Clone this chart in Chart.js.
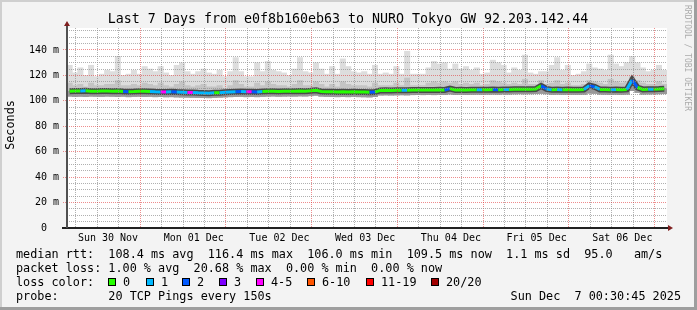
<!DOCTYPE html>
<html>
<head>
<meta charset="utf-8">
<script src="https://cdn.jsdelivr.net/npm/chart.js@4/dist/chart.umd.min.js"></script>
<style>
  html, body { margin: 0; padding: 0; background: #f3f3f3; }
  #wrap { width: 697px; height: 310px; }
</style>
</head>
<body>
<div id="wrap"><canvas id="smoke" width="697" height="310"></canvas></div>
<script>
// time axis is in hours after Sun 30 Nov 00:00, one bin = 1.5 h
const binStart = 0.5;
const binHours = 1.5;
const dayLabels = ['Sun 30 Nov', 'Mon 01 Dec', 'Tue 02 Dec', 'Wed 03 Dec', 'Thu 04 Dec', 'Fri 05 Dec', 'Sat 06 Dec'];
const xTicks = [6, 12, 18, 24, 30, 36, 42, 48, 54, 60, 66, 72, 78, 84, 90, 96, 102, 108, 114, 120, 126, 132, 138, 144, 150, 156, 162, 168];
const yTicks = [0, 5, 10, 15, 20, 25, 30, 35, 40, 45, 50, 55, 60, 65, 70, 75, 80, 85, 90, 95, 100, 105, 110, 115, 120, 125, 130, 135, 140, 145, 150, 155];

// rtt in ms
const median = [
  107.6, 107.8, 107.7, 107.9, 107.6, 107.5, 107.7, 107.8, 107.6, 107.7, 107.4, 107.2, 107.3, 107.6, 107.5, 107.3,
  107.1, 107.0, 107.0, 107.1, 106.9, 106.8, 106.6, 106.5, 106.3, 106.2, 106.0, 106.3, 106.4, 106.7, 107.0, 107.2,
  107.3, 107.1, 107.2, 107.0, 107.3, 107.5, 107.6, 107.4, 107.5, 107.6, 107.5, 107.7, 107.6, 107.9, 108.3, 107.4,
  107.2, 107.1, 107.0, 107.1, 107.0, 107.2, 107.0, 106.9, 106.8, 107.0, 108.2, 108.3, 108.2, 108.3, 108.4, 108.3,
  108.5, 108.6, 108.5, 108.6, 108.5, 108.7, 108.6, 109.6, 108.6, 108.7, 108.6, 108.7, 108.8, 108.7, 108.8, 108.9,
  108.8, 109.0, 108.9, 109.1, 109.2, 109.1, 109.2, 109.3, 111.8, 109.4, 108.8, 108.9, 108.8, 108.9, 108.8, 108.8,
  108.9, 112.0, 111.0, 109.0, 108.9, 108.8, 108.9, 108.8, 109.0, 116.4, 110.5, 109.0, 109.1, 109.2, 109.3, 109.5
];
const maxRtt = [
  128, 122, 126, 120, 128, 119, 121, 124, 123, 135, 120, 121, 124, 121, 127, 125,
  123, 127, 122, 120, 128, 130, 123, 121, 123, 125, 122, 121, 124, 119, 123, 134,
  123, 119, 119, 130, 123, 131, 124, 123, 122, 120, 125, 134, 123, 122, 130, 125,
  121, 127, 121, 133, 127, 123, 122, 123, 121, 128, 121, 122, 121, 127, 121, 139,
  121, 121, 121, 126, 131, 129, 130, 125, 129, 125, 127, 124, 126, 121, 122, 132,
  130, 128, 122, 126, 124, 136, 122, 121, 123, 123, 128, 134, 124, 128, 120, 121,
  123, 129, 126, 125, 124, 136, 129, 127, 130, 135, 130, 126, 123, 124, 128, 124
];
const highRtt = [
  114, 112, 113, 111, 114, 112, 112, 113, 113, 116, 112, 112, 113, 112, 114, 113,
  112, 114, 112, 111, 113, 115, 112, 111, 112, 113, 111, 111, 112, 110, 112, 116,
  113, 111, 111, 114, 112, 115, 113, 112, 112, 111, 113, 116, 112, 112, 115, 113,
  111, 113, 111, 115, 113, 112, 112, 112, 111, 114, 112, 112, 112, 114, 112, 118,
  112, 112, 112, 114, 115, 114, 115, 114, 115, 113, 114, 113, 114, 112, 113, 116,
  115, 114, 113, 114, 113, 117, 113, 113, 116, 113, 114, 116, 113, 114, 112, 112,
  113, 116, 115, 114, 113, 117, 115, 114, 115, 119, 116, 114, 113, 113, 115, 113
];
const minRtt = [
  103.6, 103.4, 103.5, 103.3, 103.6, 103.5, 103.4, 103.6, 103.5, 103.3, 103.5, 103.2, 103.4, 103.5, 103.3, 103.4,
  103.2, 103.3, 103.1, 103.2, 103.0, 102.9, 102.8, 102.7, 102.6, 102.5, 102.4, 102.6, 102.8, 103.0, 103.2, 103.3,
  103.4, 103.2, 103.3, 103.2, 103.4, 103.6, 103.7, 103.5, 103.6, 103.7, 103.6, 103.8, 103.7, 104.0, 104.3, 103.6,
  103.4, 103.3, 103.2, 103.3, 103.2, 103.4, 103.2, 103.1, 103.0, 103.3, 104.5, 104.6, 104.5, 104.6, 104.7, 104.6,
  104.8, 104.9, 104.8, 104.9, 104.8, 105.0, 104.9, 105.3, 104.9, 105.0, 104.9, 105.0, 105.1, 105.0, 105.1, 105.2,
  105.1, 105.3, 105.2, 105.4, 105.5, 105.4, 105.5, 105.6, 105.8, 105.5, 105.0, 105.1, 105.0, 105.1, 105.0, 105.0,
  105.1, 106.0, 105.8, 105.2, 105.1, 105.0, 105.1, 105.0, 105.2, 108.0, 106.5, 105.2, 105.3, 105.4, 105.5, 105.6
];
// index into lossColors
const loss = [
  0, 0, 0, 1, 0, 0, 0, 0, 0, 0, 0, 2, 0, 0, 0, 0,
  1, 1, 4, 1, 2, 1, 1, 4, 1, 1, 1, 1, 0, 1, 1, 1,
  2, 1, 4, 2, 1, 0, 0, 0, 0, 0, 0, 0, 0, 0, 0, 0,
  0, 0, 0, 0, 0, 0, 0, 0, 0, 2, 0, 0, 0, 0, 0, 1,
  0, 0, 0, 0, 0, 0, 0, 2, 0, 0, 0, 0, 0, 1, 0, 0,
  2, 0, 1, 0, 0, 0, 0, 0, 0, 2, 1, 0, 1, 0, 0, 0,
  0, 1, 2, 1, 0, 0, 1, 0, 0, 1, 2, 0, 0, 1, 0, 0
];

const lossColors = ['#26ff00', '#00b8ff', '#0059ff', '#7e00ff', '#ff00ff', '#ff5500', '#ff0000', '#a10000'];
const lossLabels = ['0', '1', '2', '3', '4-5', '6-10', '11-19', '20/20'];
const lossBoxX = [108, 146, 182, 219, 256, 307, 366, 431];

const titleText = 'Last 7 Days from e0f8b160eb63 to NURO Tokyo GW 92.203.142.44';
const rttLine = 'median rtt:  108.4 ms avg  116.4 ms max  106.0 ms min  109.5 ms now  1.1 ms sd  95.0   am/s';
const lossLine = 'packet loss: 1.00 % avg  20.68 % max  0.00 % min  0.00 % now';
const probeLine = 'probe:       20 TCP Pings every 150s';
const stampText = 'Sun Dec  7 00:30:45 2025';

const MONO = "'DejaVu Sans Mono', monospace";
const MAJOR = 'rgba(222,48,48,0.55)';
const MINOR = 'rgba(143,143,143,0.7)';
const NONE = 'rgba(0,0,0,0)';

const xOf = (i) => binStart + binHours * (i + 0.5);
const band = (lo, hi) => lo.map((v, i) => ({ x: xOf(i), y: [v, hi[i]] }));
const points = (arr) => arr.map((v, i) => ({ x: xOf(i), y: v }));
const tickVal = (c) => (c.tick ? c.tick.value : -1);

const barStyle = {
  grouped: false,
  barPercentage: 1,
  categoryPercentage: 1,
  borderWidth: 0,
  borderSkipped: false,
};

const smokeFrame = {
  id: 'smokeFrame',
  beforeDraw(chart) {
    const { ctx, chartArea: a } = chart;
    ctx.save();
    ctx.fillStyle = '#f3f3f3';
    ctx.fillRect(0, 0, chart.width, chart.height);
    ctx.fillStyle = '#ffffff';
    ctx.fillRect(a.left, a.top, a.right - a.left, a.bottom - a.top);
    ctx.restore();
  },
  afterDraw(chart) {
    const { ctx, chartArea: a } = chart;
    ctx.save();

    // 3d frame
    ctx.fillStyle = '#cfcfcf';
    ctx.fillRect(0, 0, chart.width, 2);
    ctx.fillRect(0, 0, 2, chart.height);
    ctx.fillStyle = '#9e9e9e';
    ctx.fillRect(0, chart.height - 3, chart.width, 3);
    ctx.fillRect(chart.width - 3, 0, 3, chart.height);

    // axes + arrows
    ctx.fillStyle = '#202020';
    ctx.fillRect(62, a.bottom - 1, a.right - 62 + 1, 2);
    ctx.fillStyle = '#505050';
    ctx.fillRect(a.left - 1, a.top - 2, 2, a.bottom - a.top + 2);
    ctx.fillStyle = '#7f1f1f';
    ctx.beginPath();
    ctx.moveTo(a.right + 1, a.bottom - 3);
    ctx.lineTo(a.right + 6, a.bottom);
    ctx.lineTo(a.right + 1, a.bottom + 3);
    ctx.fill();
    ctx.beginPath();
    ctx.moveTo(a.left - 3, a.top - 2);
    ctx.lineTo(a.left, a.top - 7);
    ctx.lineTo(a.left + 3, a.top - 2);
    ctx.fill();

    // title
    ctx.fillStyle = '#000';
    ctx.font = '13.3px ' + MONO;
    ctx.textAlign = 'center';
    ctx.textBaseline = 'alphabetic';
    ctx.fillText(titleText, 348, 23);

    // vertical axis title
    ctx.font = '11.8px ' + MONO;
    ctx.save();
    ctx.translate(14, 125);
    ctx.rotate(-Math.PI / 2);
    ctx.fillText('Seconds', 0, 0);
    ctx.restore();

    // watermark
    ctx.save();
    ctx.fillStyle = '#ababab';
    ctx.font = '8px ' + MONO;
    ctx.textAlign = 'left';
    ctx.translate(685, 5);
    ctx.rotate(Math.PI / 2);
    ctx.fillText('RRDTOOL / TOBI OETIKER', 0, 0);
    ctx.restore();

    // legend
    ctx.textAlign = 'left';
    ctx.font = '11.8px ' + MONO;
    ctx.fillStyle = '#000';
    ctx.fillText(rttLine, 16, 258);
    ctx.fillText(lossLine, 16, 272);
    ctx.fillText('loss color:', 16, 286);
    lossLabels.forEach((lab, i) => {
      const bx = lossBoxX[i];
      ctx.fillStyle = '#000';
      ctx.fillRect(bx, 278, 8, 8);
      ctx.fillStyle = lossColors[i];
      ctx.fillRect(bx + 1, 279, 6, 6);
      ctx.fillStyle = '#000';
      ctx.fillText(lab, bx + 15, 286);
    });
    ctx.fillText(probeLine, 16, 300);
    ctx.textAlign = 'right';
    ctx.fillText(stampText, 681, 300);

    ctx.restore();
  },
};

new Chart(document.getElementById('smoke'), {
  type: 'bar',
  data: {
    datasets: [
      {
        type: 'line',
        label: 'median rtt',
        data: points(median),
        borderWidth: 3,
        pointRadius: 0,
        tension: 0,
        borderColor: lossColors[0],
        segment: { borderColor: (c) => lossColors[loss[c.p1DataIndex]] },
        order: 1,
      },
      {
        type: 'line',
        label: 'core',
        data: points(median),
        borderWidth: 6,
        pointRadius: 0,
        tension: 0,
        borderColor: '#4a4a4a',
        order: 2,
      },
      { label: 'low', data: band(minRtt, median), backgroundColor: '#999999', order: 3, ...barStyle },
      { label: 'mid', data: band(minRtt, highRtt), backgroundColor: '#c4c4c4', order: 4, ...barStyle },
      { label: 'max', data: band(minRtt, maxRtt), backgroundColor: '#dddddd', order: 5, ...barStyle },
    ],
  },
  options: {
    responsive: false,
    devicePixelRatio: 1,
    animation: false,
    layout: { padding: { left: 0, top: 28, right: 30, bottom: 62 } },
    plugins: { legend: { display: false }, tooltip: { enabled: false }, title: { display: false } },
    scales: {
      x: {
        type: 'linear',
        min: 0.5125,
        max: 168.5125,
        offset: false,
        afterBuildTicks: (s) => { s.ticks = xTicks.map((v) => ({ value: v })); },
        afterFit: (s) => { s.height = 20; },
        grid: {
          z: 1,
          drawTicks: false,
          lineWidth: 1,
          color: (c) => (tickVal(c) % 24 === 0 ? MAJOR : MINOR),
        },
        border: { display: false, dash: [1, 1] },
        ticks: {
          autoSkip: false,
          maxRotation: 0,
          padding: 4,
          color: '#000',
          font: { family: MONO, size: 10 },
          callback: (v) => (v % 24 === 12 ? dayLabels[(v - 12) / 24] : ''),
        },
      },
      y: {
        min: 0,
        max: 157.3,
        afterBuildTicks: (s) => { s.ticks = yTicks.map((v) => ({ value: v })); },
        afterFit: (s) => { s.width = 67; },
        grid: {
          z: 1,
          lineWidth: 1,
          tickLength: 4,
          tickBorderDash: [1, 1],
          color: (c) => {
            const v = tickVal(c);
            if (v <= 0) return NONE;
            return v % 20 === 0 ? MAJOR : MINOR;
          },
          tickColor: (c) => (tickVal(c) > 0 && tickVal(c) % 20 === 0 ? MAJOR : NONE),
        },
        border: { display: false, dash: [1, 1] },
        ticks: {
          autoSkip: false,
          padding: 4,
          color: '#000',
          font: { family: MONO, size: 10 },
          callback: (v) => (v % 20 ? '' : v ? v + ' m' : '0  '),
        },
      },
    },
  },
  plugins: [smokeFrame],
});
</script>
</body>
</html>
